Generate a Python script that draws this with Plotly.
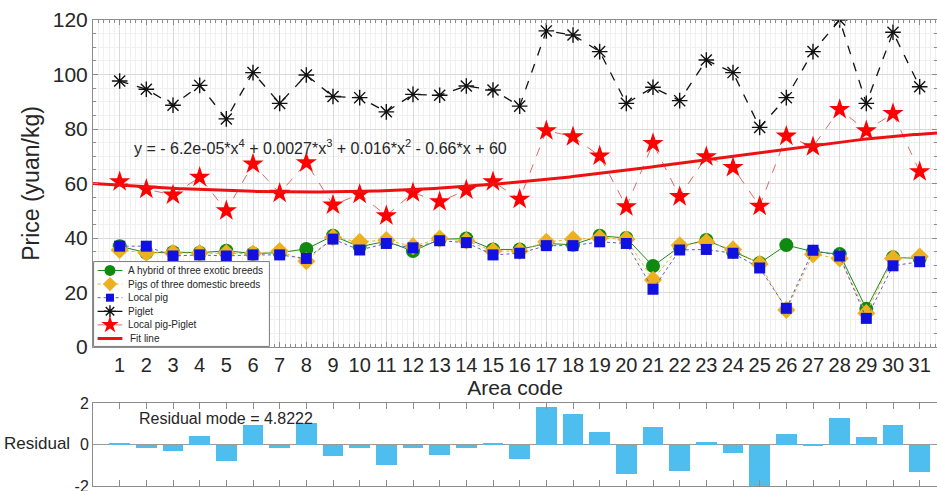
import numpy as np
import plotly.graph_objects as go

# ---- data -------------------------------------------------------------
area = list(range(1, 32))

hybrid_exotic = [37.0, 34.6, 34.8, 34.6, 35.3, 34.3, 34.6, 36.0, 40.8, 36.8,
                 38.8, 35.2, 39.5, 39.8, 35.8, 35.8, 38.0, 37.5, 40.8, 40.0,
                 29.7, 36.8, 39.3, 35.0, 30.8, 37.4, 35.0, 34.1, 14.0, 32.9,
                 32.5]
domestic_three = [35.6, 34.6, 34.5, 34.5, 34.5, 34.3, 35.2, 31.5, 40.2, 38.6,
                  39.2, 37.0, 39.8, 39.0, 35.2, 35.2, 38.6, 39.5, 40.0, 39.5,
                  24.6, 37.3, 38.5, 35.8, 30.5, 13.6, 34.0, 32.5, 12.4, 32.5,
                  33.2]
local_pig = [37.0, 37.0, 33.4, 33.8, 33.4, 33.8, 33.8, 32.5, 39.6, 35.6,
             38.0, 36.4, 39.0, 38.3, 33.8, 34.4, 37.2, 37.2, 38.6, 38.0,
             21.2, 35.6, 35.8, 34.4, 29.0, 14.2, 35.5, 33.4, 10.5, 29.8,
             31.3]
piglet = [97.6, 94.6, 88.7, 96.0, 83.7, 100.7, 89.4, 99.8, 91.9, 91.5,
          86.3, 92.7, 92.4, 95.8, 94.3, 88.4, 116.0, 114.5, 108.4, 89.4,
          95.3, 90.4, 105.3, 100.7, 80.6, 91.5, 108.4, 120.0, 89.4, 115.5,
          95.5]
local_minus_piglet = [60.7, 57.9, 55.8, 62.3, 50.0, 67.2, 56.4, 67.6, 52.1, 56.1,
                      48.2, 56.6, 53.3, 57.6, 60.7, 54.2, 79.4, 77.2, 70.1, 51.5,
                      74.7, 55.2, 69.8, 65.9, 51.7, 77.4, 73.5, 87.2, 79.4, 85.7,
                      64.3]

# quartic fit coefficients, highest power first
fit_coeffs = [-6.2e-05, 0.0027, 0.016, -0.66, 60]

residuals = [0.07, -0.15, -0.30, 0.40, -0.80, 0.95, -0.15, 1.03, -0.55, -0.18,
             -0.97, -0.17, -0.52, -0.15, 0.08, -0.70, 1.80, 1.47, 0.62, -1.42,
             0.86, -1.30, 0.10, -0.42, -2.05, 0.50, -0.03, 1.30, 0.37, 0.96,
             -1.32]
residual_norm = 4.8222

# ---- layout constants -------------------------------------------------
W, H = 937, 491
FONT = "Liberation Sans, Arial, sans-serif"
TXT = "#262626"
AXC = "#8c8c8c"
X_MAX = 31.65


def fx(px):
    return px / W


def fy(py):
    return 1 - py / H


# series styles, shared by the plot and the legend box
styles = [
    dict(name="A hybrid of three exotic breeds", y=hybrid_exotic,
         line=dict(color="#1a8a1a", width=1),
         marker=dict(symbol="circle", size=14, color="#0f8a0f")),
    dict(name="Pigs of three domestic breeds", y=domestic_three,
         line=dict(color="#edb120", width=1, dash="dot"),
         marker=dict(symbol="diamond", size=14, color="#edb120")),
    dict(name="Local pig", y=local_pig,
         line=dict(color="#5a5acc", width=1, dash="dot"),
         marker=dict(symbol="square", size=11, color="#1010e0")),
    dict(name="Piglet", y=piglet,
         line=dict(color="#111111", width=1.3, dash="dash"),
         marker=dict(symbol="asterisk-open", size=13, color="#111111",
                     line=dict(color="#111111", width=1.4))),
    dict(name="Local pig-Piglet", y=local_minus_piglet,
         line=dict(color="rgba(215,80,80,0.85)", width=1, dash="dash"),
         marker=dict(symbol="star", size=16, color="#ff0000")),
]
fit_style = dict(name="Fit line", line=dict(color="#ee1111", width=3))

fig = go.Figure()

# ---- price series -----------------------------------------------------
for s in styles:
    fig.add_trace(go.Scatter(x=area, y=s["y"], name=s["name"], mode="lines+markers",
                             line=s["line"], marker=s["marker"], showlegend=False))

xf = np.linspace(0, X_MAX, 300)
fig.add_trace(go.Scatter(x=xf, y=np.polyval(fit_coeffs, xf), name=fit_style["name"],
                         mode="lines", line=fit_style["line"], showlegend=False))

# ---- residual bars ----------------------------------------------------
fig.add_trace(go.Bar(
    x=area, y=residuals, width=0.78, marker=dict(color="#4dbeee", line=dict(width=0)),
    xaxis="x2", yaxis="y2", showlegend=False))

# ---- compact legend box (own small subplot in pixel units) -----------
LG_L, LG_R, LG_T, LG_B = 93, 270, 261, 347
lg_w, lg_h = LG_R - LG_L, LG_B - LG_T
row_h = 13.8
row0 = 9
fig.add_trace(go.Scatter(
    x=[0, lg_w, lg_w, 0, 0], y=[0, 0, lg_h, lg_h, 0], mode="lines",
    fill="toself", fillcolor="white", line=dict(color="#7a7a7a", width=1),
    xaxis="x3", yaxis="y3", showlegend=False, hoverinfo="skip"))
legend_rows = styles + [fit_style]
for i, s in enumerate(legend_rows):
    ry = row0 + i * row_h
    fig.add_trace(go.Scatter(
        x=[4, 29], y=[ry, ry], mode="lines", line=s["line"],
        xaxis="x3", yaxis="y3", showlegend=False, hoverinfo="skip"))
    if "marker" in s:
        m = dict(s["marker"])
        m["size"] = max(m["size"] - 3, 8)
        fig.add_trace(go.Scatter(
            x=[16.5], y=[ry], mode="markers", marker=m,
            xaxis="x3", yaxis="y3", showlegend=False, hoverinfo="skip"))
    fig.add_annotation(
        x=33 if "marker" in s else 35, y=ry, xref="x3", yref="y3",
        xanchor="left", yanchor="middle", text=s["name"], showarrow=False,
        font=dict(size=10, color=TXT))

# ---- axes -------------------------------------------------------------
main_top, main_bot = 20, 347
res_top, res_bot = 403, 486

fig.update_layout(
    width=W, height=H,
    margin=dict(l=0, r=0, t=0, b=0, autoexpand=False),
    paper_bgcolor="white", plot_bgcolor="white",
    font=dict(family=FONT, color=TXT),
    showlegend=False,
    xaxis=dict(
        domain=[fx(93), 1], range=[0, X_MAX], automargin=False,
        tickmode="array", tickvals=area, ticktext=[str(a) for a in area],
        ticks="inside", ticklen=5, tickcolor=AXC, mirror="ticks",
        showline=True, linecolor=AXC, linewidth=1,
        showgrid=True, gridcolor="#dadada", gridwidth=1,
        minor=dict(dtick=0.2, tick0=0, ticks="inside", ticklen=3, tickcolor=AXC,
                   showgrid=True, gridcolor="#f0f0f0"),
        tickfont=dict(size=20, color=TXT),
        title=dict(text="Area code", font=dict(size=21, color=TXT), standoff=2),
        zeroline=False, anchor="y"),
    yaxis=dict(
        domain=[fy(main_bot), fy(main_top)], range=[0, 120], automargin=False,
        tickmode="linear", tick0=0, dtick=20,
        ticks="inside", ticklen=5, tickcolor=AXC, mirror="ticks",
        showline=True, linecolor=AXC, linewidth=1,
        showgrid=True, gridcolor="#dadada",
        minor=dict(dtick=5, ticks="inside", ticklen=3, tickcolor=AXC,
                   showgrid=True, gridcolor="#f0f0f0"),
        tickfont=dict(size=21, color=TXT),
        title=dict(text="Price (yuan/kg)", font=dict(size=23, color=TXT), standoff=6),
        zeroline=False, anchor="x"),
    xaxis2=dict(
        domain=[fx(93), 1], range=[0, X_MAX], automargin=False,
        tickmode="array", tickvals=area, showticklabels=False,
        ticks="inside", ticklen=6, tickcolor=AXC, mirror="ticks",
        showline=True, linecolor=AXC, linewidth=1,
        showgrid=False, zeroline=False, anchor="y2"),
    yaxis2=dict(
        domain=[fy(res_bot), fy(res_top)], range=[-2, 2], automargin=False,
        tickmode="array", tickvals=[-2, 0, 2], ticktext=["-2", "0", "2"],
        ticklabeloverflow="allow",
        ticks="", showline=True, linecolor=AXC, mirror=True,
        showgrid=False, zeroline=True, zerolinecolor="#9a9a9a", zerolinewidth=1,
        tickfont=dict(size=16, color=TXT), anchor="x2"),
    xaxis3=dict(domain=[fx(LG_L), fx(LG_R)], range=[-0.6, lg_w + 0.6],
                visible=False, automargin=False, anchor="y3", fixedrange=True),
    yaxis3=dict(domain=[fy(LG_B), fy(LG_T)], range=[lg_h + 0.6, -0.6],
                visible=False, automargin=False, anchor="x3", fixedrange=True),
    bargap=0,
)

fig.add_annotation(
    x=fx(132), y=fy(147), xref="paper", yref="paper", xanchor="left", yanchor="middle",
    text="y = - 6.2e-05*x<sup>4</sup> + 0.0027*x<sup>3</sup> + 0.016*x<sup>2</sup> - 0.66*x + 60",
    showarrow=False, font=dict(size=16, color=TXT))
fig.add_annotation(
    x=fx(137), y=fy(418), xref="paper", yref="paper", xanchor="left", yanchor="middle",
    text=f"Residual mode = {residual_norm}",
    showarrow=False, font=dict(size=16, color=TXT))
fig.add_annotation(
    x=fx(72), y=fy(443), xref="paper", yref="paper", xanchor="right", yanchor="middle",
    text="Residual", showarrow=False, font=dict(size=17, color=TXT))

fig.write_html("out.html")
